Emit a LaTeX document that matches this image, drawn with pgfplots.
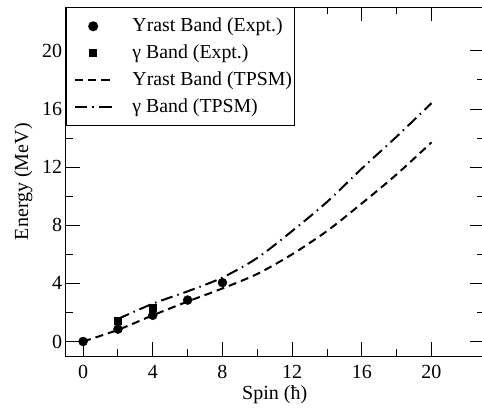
\documentclass[border=0pt]{standalone}
\usepackage{fontspec}
\setmainfont{Liberation Serif}
\usepackage{pgfplots}
\pgfplotsset{compat=1.18}
\begin{document}
\begin{tikzpicture}
\begin{axis}[
  scale only axis, width=418bp, height=348.7bp,
  xmin=-1, xmax=23, ymin=-1, ymax=23,
  xtick={0,4,...,20}, ytick={0,4,...,20},
  minor tick num=1,
  tick align=inside,
  major tick length=14bp, minor tick length=7bp,
  every tick/.style={black, line width=0.9bp},
  axis line style={line width=1bp},
  /pgf/number format/assume math mode=true,
  tick label style={font=\fontsize{20bp}{24bp}\selectfont},
  label style={font=\fontsize{20bp}{24bp}\selectfont},
  xticklabel style={yshift=-6bp},
  xlabel={Spin (ħ)}, ylabel={Energy (MeV)},
  xlabel style={yshift=-2bp, inner sep=1bp},
  ylabel style={yshift=3bp},
  legend cell align=left,
  legend image code/.code={\path (0bp,0bp); \draw[mark repeat=2,mark phase=2,#1] plot coordinates {(7bp,0bp) (25bp,0bp) (43bp,0bp)};},
  legend style={at={(0,1)}, anchor=north west, draw=black, line width=1bp,
    font=\fontsize{19.8bp}{24bp}\selectfont,
    inner xsep=1bp, inner ysep=8bp, row sep=6bp,
    nodes={font=\fontsize{19.8bp}{24bp}\selectfont, inner xsep=2bp, inner ysep=0pt, text height=16bp, text depth=5bp},
    /tikz/every odd column/.append style={column sep=18.3bp}},
]
\addplot[only marks, mark=*, mark size=4.5bp, black] coordinates {
  (0,0) (2,0.85) (4,1.8) (6,2.85) (8,4.05)};
\addlegendentry{Yrast Band (Expt.)}
\addplot[only marks, mark=square*, mark size=3.5bp, black] coordinates {
  (2,1.45) (4,2.3)};
\addlegendentry{γ Band (Expt.)}
\addplot[black, line width=2bp, smooth, dash pattern=on 8bp off 5bp] coordinates {
  (0,0) (2,0.8) (4,1.8) (6,2.75) (8,3.65) (10,4.65) (12,6.0) (14,7.6) (16,9.5) (18,11.5) (20,13.7)};
\addlegendentry{Yrast Band (TPSM)}
\addplot[black, line width=2bp, smooth, dash pattern=on 12bp off 5bp on 1.5bp off 5bp] coordinates {
  (2,1.55) (4,2.6) (6,3.45) (8,4.4) (10,5.75) (12,7.6) (14,9.6) (16,11.9) (18,14.1) (20,16.4)};
\addlegendentry{γ Band (TPSM)}
\end{axis}
\pgfresetboundingbox
\useasboundingbox (-65.7bp,-52bp) rectangle (416.3bp,356bp);
\end{tikzpicture}
\end{document}
